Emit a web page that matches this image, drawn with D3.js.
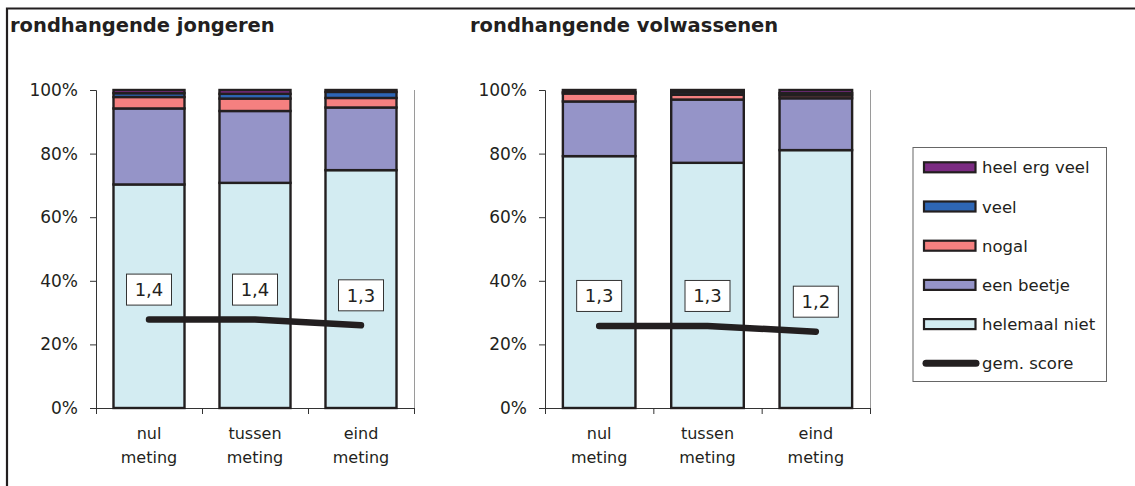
<!DOCTYPE html>
<html><head><meta charset="utf-8">
<script src="https://cdn.jsdelivr.net/npm/d3@7"></script>
<style>
html,body{margin:0;padding:0;background:#fff;}
svg{display:block;}
text{font-family:"DejaVu Sans",sans-serif;fill:#231f20;}
</style></head><body>
<svg id="c" width="1135" height="486"></svg>
<script>
const categories = [["nul","meting"],["tussen","meting"],["eind","meting"]];
const seriesNames = ["helemaal niet","een beetje","nogal","veel","heel erg veel"];
const seriesColors = ["#d3ecf2","#9594c8","#f58080","#2e66b5","#7b2b82"];
const yTicks = [0,20,40,60,80,100];

const titleJong = "rondhangende jongeren";
const jongHelemaal = [70.3, 70.8, 74.8];
const jongBeetje   = [23.9, 22.6, 19.7];
const jongNogal    = [3.6, 3.9, 3.0];
const jongVeel     = [1.2, 1.5, 1.9];
const jongHeel     = [1.0, 1.2, 0.6];
const jongScore    = [1.39, 1.39, 1.30];

const titleVolw = "rondhangende volwassenen";
const volwHelemaal = [79.2, 77.1, 81.1];
const volwBeetje   = [17.2, 19.9, 16.3];
const volwNogal    = [2.5, 1.5, 0.9];
const volwVeel     = [0.4, 0.8, 0.7];
const volwHeel     = [0.7, 0.7, 1.0];
const volwScore    = [1.29, 1.29, 1.20];

const legendNames = ["heel erg veel","veel","nogal","een beetje","helemaal niet"];
const scoreLabel = "gem. score";

const svg = d3.select("#c");
const ink = "#231f20";

// outer frame
svg.append("path").attr("d","M7,486 V8.5 H1135").attr("fill","none").attr("stroke",ink).attr("stroke-width",2.2);

function drawPanel(opts){
  const {x0,x1,title,titleX,values,score} = opts;
  const g = svg.append("g");
  const y = d3.scaleLinear().domain([0,100]).range([408,90]);
  const yS = d3.scaleLinear().domain([0,5]).range([408,90]);
  const idx = categories.map((d,i)=>i);
  const x = d3.scaleBand().domain(idx).range([x0,x1]).paddingInner(0.33).paddingOuter(0.165);

  g.append("text").attr("x",titleX).attr("y",32).attr("font-size",19.5).attr("font-weight","bold").text(title);

  // right border of plot area
  g.append("line").attr("x1",x1+0.5).attr("x2",x1+0.5).attr("y1",90).attr("y2",408).attr("stroke","#9a9a9a").attr("stroke-width",1);

  // y axis
  const ya = g.append("g").attr("transform",`translate(${x0},0)`)
    .call(d3.axisLeft(y).tickValues(yTicks).tickFormat(d=>d+"%").tickSize(6).tickPadding(12));
  ya.select(".domain").attr("stroke","#333");
  ya.selectAll(".tick line").attr("stroke","#333");
  ya.selectAll("text").attr("font-size",17).attr("fill",ink).style("font-family","DejaVu Sans");

  // x axis ticks at band boundaries
  const xb = d3.scaleLinear().domain([0,categories.length]).range([x0,x1]);
  const xa = g.append("g").attr("transform","translate(0,408)")
    .call(d3.axisBottom(xb).ticks(categories.length).tickFormat("").tickSize(6));
  xa.select(".domain").attr("stroke","#333").attr("d",`M${x0},0.5H${x1}`);
  xa.selectAll(".tick line").attr("stroke","#333");

  // stacked bars
  const rows = idx.map(i=>{ const o={i}; seriesNames.forEach((s,k)=>o[s]=values[k][i]); return o;});
  const stack = d3.stack().keys(seriesNames)(rows);
  stack.forEach((layer,k)=>{
    g.append("g").selectAll("rect").data(layer).join("rect")
      .attr("x",d=>x(d.data.i)).attr("width",x.bandwidth())
      .attr("y",d=>y(d[1])).attr("height",d=>y(d[0])-y(d[1]))
      .attr("fill",seriesColors[k]).attr("stroke",ink).attr("stroke-width",2.4);
  });

  // category labels
  categories.forEach((lines,i)=>{
    const t = g.append("text").attr("text-anchor","middle").attr("font-size",16);
    lines.forEach((l,j)=>t.append("tspan").attr("x",x(i)+x.bandwidth()/2).attr("y",439+j*24).text(l));
  });

  // score line
  const line = d3.line().x((d,i)=>x(i)+x.bandwidth()/2).y(d=>yS(d));
  g.append("path").datum(score).attr("d",line).attr("fill","none").attr("stroke",ink)
    .attr("stroke-width",6.5).attr("stroke-linecap","round").attr("stroke-linejoin","round");

  // score labels
  const fmt = d3.format(".1f");
  score.forEach((v,i)=>{
    const cx = x(i)+x.bandwidth()/2, cy = yS(v)-30;
    g.append("rect").attr("x",cx-22.5).attr("y",cy-15.5).attr("width",45).attr("height",31)
      .attr("fill","#fff").attr("stroke","#333").attr("stroke-width",1);
    g.append("text").attr("x",cx).attr("y",cy+6.5).attr("text-anchor","middle").attr("font-size",18)
      .text(fmt(v).replace(".",","));
  });
}

drawPanel({x0:96,x1:414,title:titleJong,titleX:10,score:jongScore,
  values:[jongHelemaal,jongBeetje,jongNogal,jongVeel,jongHeel]});
drawPanel({x0:545,x1:870,title:titleVolw,titleX:470,score:volwScore,
  values:[volwHelemaal,volwBeetje,volwNogal,volwVeel,volwHeel]});

// legend
const lg = svg.append("g");
lg.append("rect").attr("x",913).attr("y",147.5).attr("width",193.5).attr("height",234)
  .attr("fill","#fff").attr("stroke","#666").attr("stroke-width",1);
const legendColors = legendNames.map(n=>seriesColors[seriesNames.indexOf(n)]);
legendNames.forEach((n,i)=>{
  const cy = 167.3 + i*39.2;
  lg.append("rect").attr("x",924).attr("y",cy-5).attr("width",51.5).attr("height",10)
    .attr("fill",legendColors[i]).attr("stroke",ink).attr("stroke-width",2.2);
  lg.append("text").attr("x",982).attr("y",cy+6).attr("font-size",16.5).text(n);
});
{
  const cy = 167.3 + 5*39.2;
  lg.append("line").attr("x1",926).attr("x2",976).attr("y1",cy).attr("y2",cy)
    .attr("stroke",ink).attr("stroke-width",7).attr("stroke-linecap","round");
  lg.append("text").attr("x",982).attr("y",cy+6).attr("font-size",16.5).text(scoreLabel);
}
</script>
</body></html>
